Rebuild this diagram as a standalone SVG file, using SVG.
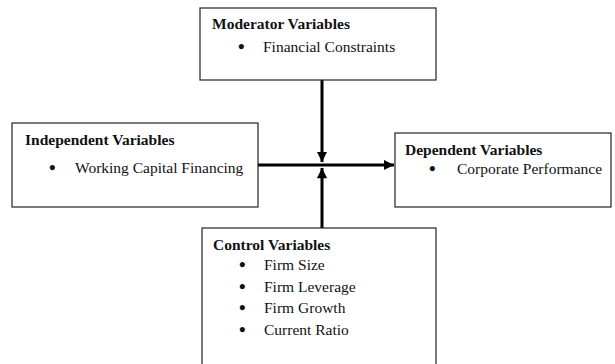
<svg xmlns="http://www.w3.org/2000/svg" width="615" height="364" viewBox="0 0 615 364">
<defs>
<marker id="ah" viewBox="0 0 10 10" refX="10" refY="5" markerWidth="3.6" markerHeight="3.4" markerUnits="strokeWidth" orient="auto">
<path d="M0,0 L10,5 L0,10 Z" fill="#000"/>
</marker>
</defs>
<style>
.box{fill:#fff;stroke:#222;stroke-width:1.2}
.t{font-family:"Liberation Serif","Times New Roman",serif;font-size:15.5px;fill:#111}
.b{font-weight:bold}
.d{font-size:19px;font-weight:bold}
.c{stroke:#000;stroke-width:3;fill:none}
</style>
<rect width="615" height="364" fill="#fff"/>
<g id="connectors">
<line class="c" x1="322" y1="80" x2="322" y2="162" marker-end="url(#ah)"/>
<line class="c" x1="322" y1="228" x2="322" y2="168" marker-end="url(#ah)"/>
<line class="c" x1="258" y1="165" x2="394" y2="165" marker-end="url(#ah)"/>
</g>
<g id="moderator">
<rect class="box" x="200" y="8" width="236" height="72"/>
<text class="t b" x="212" y="29">Moderator Variables</text>
<text class="t d" x="238" y="53">•</text>
<text class="t" x="263" y="52">Financial Constraints</text>
</g>
<g id="independent">
<rect class="box" x="12" y="123" width="246" height="84"/>
<text class="t b" x="25" y="145">Independent Variables</text>
<text class="t d" x="49" y="174">•</text>
<text class="t" x="75" y="173">Working Capital Financing</text>
</g>
<g id="dependent">
<rect class="box" x="395" y="133" width="216" height="74"/>
<text class="t b" x="405" y="155">Dependent Variables</text>
<text class="t d" x="429" y="175">•</text>
<text class="t" x="457" y="174">Corporate Performance</text>
</g>
<g id="control">
<rect class="box" x="202" y="228" width="234" height="140"/>
<text class="t b" x="213" y="250">Control Variables</text>
<text class="t d" x="239" y="271">•</text>
<text class="t" x="264" y="270">Firm Size</text>
<text class="t d" x="239" y="293">•</text>
<text class="t" x="264" y="292">Firm Leverage</text>
<text class="t d" x="239" y="314">•</text>
<text class="t" x="264" y="313">Firm Growth</text>
<text class="t d" x="239" y="336">•</text>
<text class="t" x="264" y="335">Current Ratio</text>
</g>
</svg>
